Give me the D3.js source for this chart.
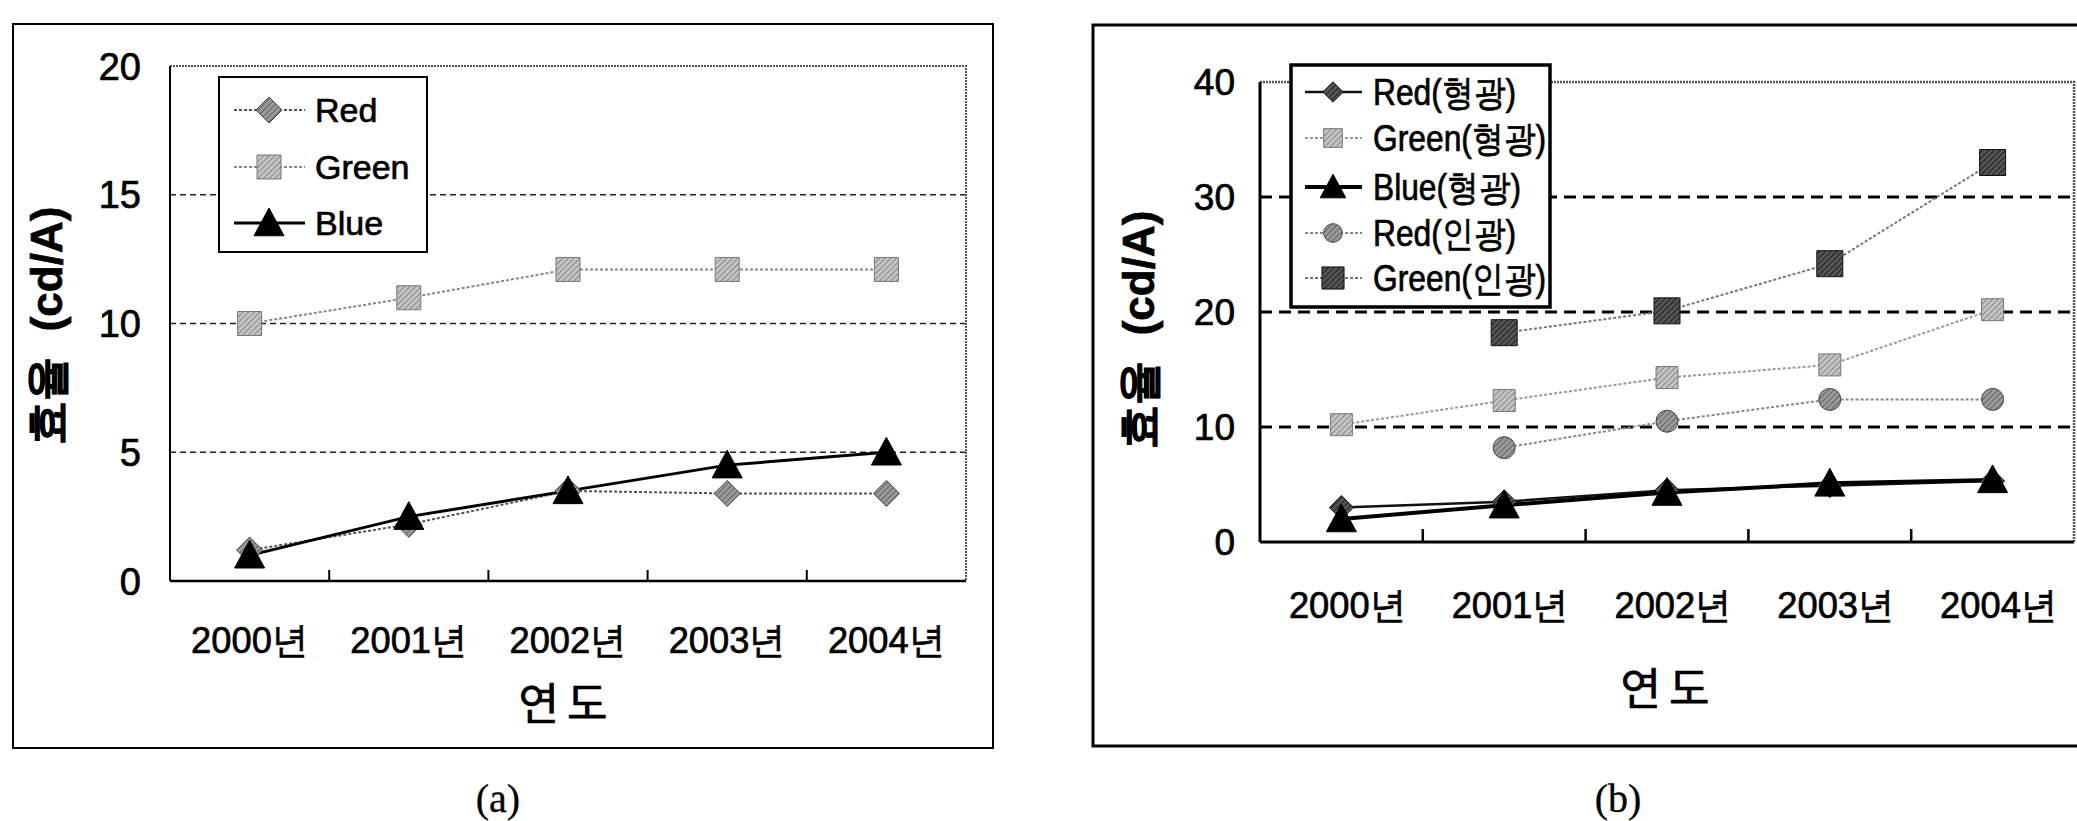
<!DOCTYPE html>
<html><head><meta charset="utf-8">
<script src="https://cdn.jsdelivr.net/npm/d3@7/dist/d3.min.js"></script>
<style>
html,body{margin:0;padding:0;background:#fff;}
svg text{font-family:"Liberation Sans",Arial,sans-serif;fill:#000;stroke:#000;stroke-width:0.7px;}
</style></head>
<body><svg id="c" width="2077" height="821"></svg>
<script>
// ---------- data ----------
const years = ["2000년","2001년","2002년","2003년","2004년"];
const yTicksA = [0,5,10,15,20];
const yTicksB = [0,10,20,30,40];

const redA   = [1.2, 2.2, 3.5, 3.4, 3.4];
const greenA = [10, 11, 12.1, 12.1, 12.1];
const blueA  = [1.0, 2.5, 3.5, 4.5, 5.0];

const redFluoB   = [3.0, 3.5, 4.5, 4.9, 5.3];
const greenFluoB = [10.2, 12.3, 14.3, 15.4, 20.2];
const blueFluoB  = [2.0, 3.2, 4.3, 5.1, 5.4];
const redPhosB   = [null, 8.2, 10.5, 12.4, 12.4];
const greenPhosB = [null, 18.2, 20.1, 24.2, 33.0];

const namesA = ["Red","Green","Blue"];
const namesB = ["Red(형광)","Green(형광)","Blue(형광)","Red(인광)","Green(인광)"];

// ---------- helpers ----------
const svg = d3.select("#c");
const defs = svg.append("defs");
function hatch(id, bg, fg){
  const p = defs.append("pattern").attr("id",id).attr("patternUnits","userSpaceOnUse")
    .attr("width",4).attr("height",4).attr("patternTransform","rotate(45)");
  p.append("rect").attr("width",4).attr("height",4).attr("fill",bg);
  p.append("line").attr("x1",0).attr("y1",0).attr("x2",0).attr("y2",4).attr("stroke",fg).attr("stroke-width",1.6);
}
hatch("hMid","#9a9a9a","#555");
hatch("hLight","#c4c4c4","#777");
hatch("hDark","#555","#111");
const fills = {mid:"url(#hMid)",light:"url(#hLight)",dark:"url(#hDark)",black:"#000"};
const edges = {mid:"#444",light:"#777",dark:"#111",black:"#000"};

function marker(g, type, cx, cy, s, tone){
  const fill = fills[tone], st = edges[tone];
  const h = s/2;
  if(type==="circle"){ g.append("circle").attr("cx",cx).attr("cy",cy).attr("r",h).attr("fill",fill).attr("stroke",st).attr("stroke-width",1); return; }
  let p;
  if(type==="diamond") p=`M${cx},${cy-h}L${cx+h},${cy}L${cx},${cy+h}L${cx-h},${cy}Z`;
  else if(type==="square") p=`M${cx-h},${cy-h}h${s}v${s}h${-s}Z`;
  else p=`M${cx},${cy-h}L${cx+h},${cy+h*0.85}L${cx-h},${cy+h*0.85}Z`;
  g.append("path").attr("d",p).attr("fill",fill).attr("stroke",st).attr("stroke-width",1);
}

// ---------- Panel A ----------
const A = {x0:170,x1:966,y0:581,y1:66};
const xA = d3.scaleBand().domain(years).range([A.x0,A.x1]).padding(0);
const yA = d3.scaleLinear().domain([0,20]).range([A.y0,A.y1]);
const cxA = d => xA(d)+xA.bandwidth()/2;

svg.append("rect").attr("x",13).attr("y",24).attr("width",980).attr("height",724)
  .attr("fill","none").attr("stroke","#000").attr("stroke-width",2);

const gA = svg.append("g");
gA.selectAll(".gl").data(yTicksA.filter(v=>v>0&&v<20)).enter().append("line")
  .attr("x1",A.x0).attr("x2",A.x1).attr("y1",d=>yA(d)).attr("y2",d=>yA(d))
  .attr("stroke","#222").attr("stroke-width",1.5).attr("stroke-dasharray","6,4");
gA.append("path").attr("d",`M${A.x0},${yA(20)}H${A.x1}V${A.y0}`).attr("fill","none")
  .attr("stroke","#555").attr("stroke-width",2).attr("stroke-dasharray","2,1");
gA.append("g").attr("transform",`translate(0,${A.y0})`).call(d3.axisBottom(xA).tickSize(0).tickFormat(""))
  .call(g=>g.select(".domain").attr("stroke","#000").attr("stroke-width",2.5).attr("d",`M${A.x0},0H${A.x1}`));
gA.selectAll(".tk").data(years.slice(1)).enter().append("line")
  .attr("x1",d=>xA(d)).attr("x2",d=>xA(d)).attr("y1",A.y0).attr("y2",A.y0-11)
  .attr("stroke","#000").attr("stroke-width",2);
gA.append("line").attr("x1",A.x0).attr("x2",A.x0).attr("y1",yA(20)).attr("y2",A.y0)
  .attr("stroke","#000").attr("stroke-width",2);
gA.selectAll(".yl").data(yTicksA).enter().append("text")
  .attr("x",141).attr("y",d=>yA(d)).attr("dy","0.36em").attr("text-anchor","end")
  .attr("font-size",38).text(d=>d);
gA.selectAll(".xl").data(years).enter().append("text")
  .attr("x",d=>cxA(d)).attr("y",640).attr("dy","0.36em").attr("text-anchor","middle")
  .attr("font-size",37).attr("textLength",117).attr("lengthAdjust","spacingAndGlyphs").text(d=>d);
gA.append("text").attr("x",567).attr("y",704).attr("dy","0.36em").attr("text-anchor","middle")
  .attr("font-size",44).attr("letter-spacing",8).style("font-family","'Noto Sans CJK KR'").text("연도");
gA.append("text").attr("transform","translate(62,326) rotate(-90)").attr("text-anchor","middle")
  .attr("font-size",44).attr("font-weight","bold")
  .call(t=>{t.append("tspan").text("효율");t.append("tspan").attr("dx",26).text("(cd/A)");});
svg.append("text").attr("x",498).attr("y",798).attr("dy","0.36em").attr("text-anchor","middle")
  .attr("font-size",40).style("font-family","'Liberation Serif',serif").style("stroke-width","0.3px").text("(a)");

const lineA = d3.line().defined(d=>d.v!=null).x(d=>cxA(d.k)).y(d=>yA(d.v));
const seriesA = [
  {vals:redA,type:"diamond",tone:"mid",stroke:"#555",sw:2,dash:"3,2",ms:26},
  {vals:greenA,type:"square",tone:"light",stroke:"#888",sw:2,dash:"3,2",ms:24},
  {vals:blueA,type:"triangle",tone:"black",stroke:"#000",sw:3,dash:null,ms:30}
];
seriesA.forEach(s=>{
  const pts = s.vals.map((v,i)=>({k:years[i],v}));
  gA.append("path").attr("d",lineA(pts)).attr("fill","none").attr("stroke",s.stroke)
    .attr("stroke-width",s.sw).attr("stroke-dasharray",s.dash);
});
seriesA.forEach(s=>{
  s.vals.forEach((v,i)=>{ if(v!=null) marker(gA,s.type,cxA(years[i]),yA(v),s.ms,s.tone); });
});
const lgA = svg.append("g");
lgA.append("rect").attr("x",219).attr("y",77).attr("width",208).attr("height",175)
  .attr("fill","#fff").attr("stroke","#000").attr("stroke-width",2);
const lyA = [110,167,223];
seriesA.forEach((s,i)=>{
  lgA.append("line").attr("x1",234).attr("x2",305).attr("y1",lyA[i]).attr("y2",lyA[i])
    .attr("stroke",s.stroke).attr("stroke-width",s.sw).attr("stroke-dasharray",s.dash);
  marker(lgA,s.type,269,lyA[i],s.ms,s.tone);
  lgA.append("text").attr("x",315).attr("y",lyA[i]).attr("dy","0.36em").attr("font-size",34).text(namesA[i]);
});

// ---------- Panel B ----------
const B = {x0:1260,x1:2074,y0:542,y1:82};
const xB = d3.scaleBand().domain(years).range([B.x0,B.x1]).padding(0);
const yB = d3.scaleLinear().domain([0,40]).range([B.y0,B.y1]);
const cxB = d => xB(d)+xB.bandwidth()/2;

svg.append("rect").attr("x",1093).attr("y",25).attr("width",1100).attr("height",721)
  .attr("fill","none").attr("stroke","#000").attr("stroke-width",3);
const gB = svg.append("g");
gB.selectAll(".gl").data(yTicksB.filter(v=>v>0&&v<40)).enter().append("line")
  .attr("x1",B.x0).attr("x2",B.x1).attr("y1",d=>yB(d)).attr("y2",d=>yB(d))
  .attr("stroke","#000").attr("stroke-width",3).attr("stroke-dasharray","12,7");
gB.append("path").attr("d",`M${B.x0},${yB(40)}H${B.x1}V${B.y0}`).attr("fill","none")
  .attr("stroke","#555").attr("stroke-width",2.5).attr("stroke-dasharray","2,1");
gB.append("g").attr("transform",`translate(0,${B.y0})`).call(d3.axisBottom(xB).tickSize(0).tickFormat(""))
  .call(g=>g.select(".domain").attr("stroke","#000").attr("stroke-width",3).attr("d",`M${B.x0},0H${B.x1}`));
gB.selectAll(".tk").data(years.slice(1)).enter().append("line")
  .attr("x1",d=>xB(d)).attr("x2",d=>xB(d)).attr("y1",B.y0).attr("y2",B.y0-13)
  .attr("stroke","#000").attr("stroke-width",2.5);
gB.append("line").attr("x1",B.x0).attr("x2",B.x0).attr("y1",yB(40)).attr("y2",B.y0)
  .attr("stroke","#000").attr("stroke-width",3);
gB.selectAll(".yl").data(yTicksB).enter().append("text")
  .attr("x",1235).attr("y",d=>yB(d)).attr("dy","0.36em").attr("text-anchor","end")
  .attr("font-size",37).text(d=>d);
gB.selectAll(".xl").data(years).enter().append("text")
  .attr("x",d=>cxB(d)+6).attr("y",605).attr("dy","0.36em").attr("text-anchor","middle")
  .attr("font-size",37).attr("textLength",117).attr("lengthAdjust","spacingAndGlyphs").text(d=>d);
gB.append("text").attr("x",1669).attr("y",689).attr("dy","0.36em").attr("text-anchor","middle")
  .attr("font-size",44).attr("letter-spacing",8).style("font-family","'Noto Sans CJK KR'").text("연도");
gB.append("text").attr("transform","translate(1154,330) rotate(-90)").attr("text-anchor","middle")
  .attr("font-size",44).attr("font-weight","bold")
  .call(t=>{t.append("tspan").text("효율");t.append("tspan").attr("dx",26).text("(cd/A)");});
svg.append("text").attr("x",1618).attr("y",798).attr("dy","0.36em").attr("text-anchor","middle")
  .attr("font-size",40).style("font-family","'Liberation Serif',serif").style("stroke-width","0.3px").text("(b)");

const lineB = d3.line().defined(d=>d.v!=null).x(d=>cxB(d.k)).y(d=>yB(d.v));
const seriesB = [
  {vals:redFluoB,type:"diamond",tone:"dark",stroke:"#111",sw:2.5,dash:null,ms:24},
  {vals:greenFluoB,type:"square",tone:"light",stroke:"#999",sw:2,dash:"3,2",ms:22},
  {vals:blueFluoB,type:"triangle",tone:"black",stroke:"#000",sw:4,dash:null,ms:30},
  {vals:redPhosB,type:"circle",tone:"mid",stroke:"#888",sw:2,dash:"3,2",ms:22},
  {vals:greenPhosB,type:"square",tone:"dark",stroke:"#777",sw:2,dash:"3,2",ms:26}
];
seriesB.forEach(s=>{
  const pts = s.vals.map((v,i)=>({k:years[i],v}));
  gB.append("path").attr("d",lineB(pts)).attr("fill","none").attr("stroke",s.stroke)
    .attr("stroke-width",s.sw).attr("stroke-dasharray",s.dash);
});
seriesB.forEach(s=>{
  s.vals.forEach((v,i)=>{ if(v!=null) marker(gB,s.type,cxB(years[i]),yB(v),s.ms,s.tone); });
});
const lgB = svg.append("g");
lgB.append("rect").attr("x",1291).attr("y",65).attr("width",259).attr("height",242)
  .attr("fill","#fff").attr("stroke","#000").attr("stroke-width",3.5);
const lyB = [92,138,187,233,278];
const lwB = [143,173,148,143,173];
seriesB.forEach((s,i)=>{
  lgB.append("line").attr("x1",1305).attr("x2",1362).attr("y1",lyB[i]).attr("y2",lyB[i])
    .attr("stroke",s.stroke).attr("stroke-width",s.sw).attr("stroke-dasharray",s.dash);
  marker(lgB,s.type,1333,lyB[i],s.ms*0.85,s.tone);
  lgB.append("text").attr("x",1373).attr("y",lyB[i]).attr("dy","0.36em").attr("font-size",36)
    .attr("textLength",lwB[i]).attr("lengthAdjust","spacingAndGlyphs").text(namesB[i]);
});
</script></body></html>
